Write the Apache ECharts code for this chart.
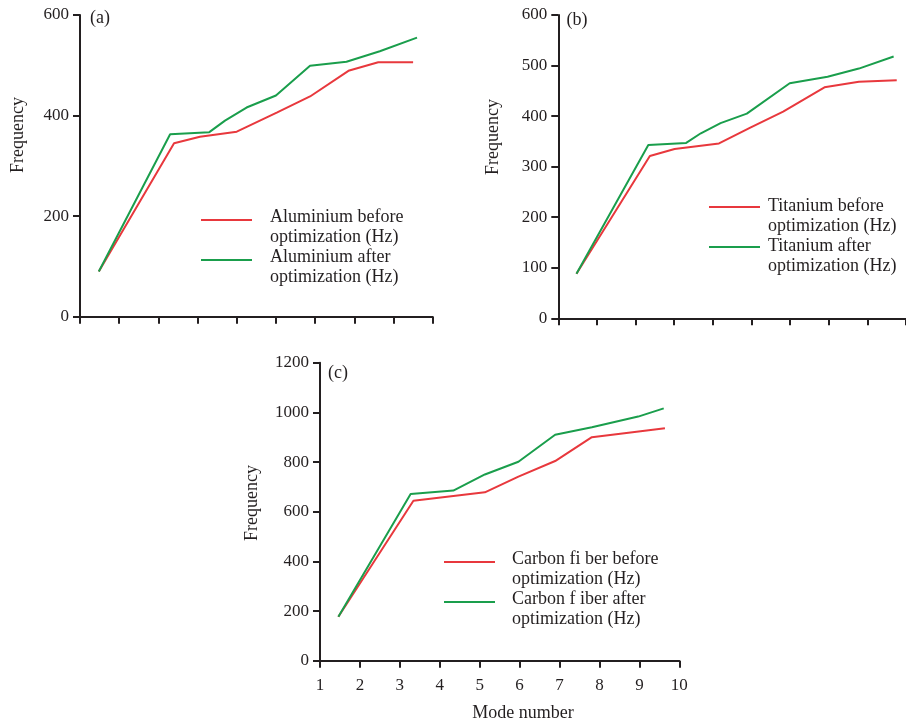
<!DOCTYPE html>
<html>
<head>
<meta charset="utf-8">
<title>Frequency before / after optimization</title>
<script src="https://cdn.jsdelivr.net/npm/echarts@6/dist/echarts.min.js"></script>
<style>
  html, body { margin: 0; padding: 0; background: #fff; }
  #main { width: 906px; height: 723px; }
</style>
</head>
<body>
<div id="main"></div>
<script>
// values: [mode number, frequency]
const aluBefore = [[1.48, 90], [3.40, 345], [4.06, 358], [5.0, 368], [6.02, 406], [6.87, 438], [7.85, 489], [8.61, 506], [9.5, 506]]
const aluAfter = [[1.48, 90], [3.30, 363], [4.30, 367], [4.70, 390], [5.25, 416], [6.0, 440], [6.87, 499], [7.80, 507], [8.65, 528], [9.6, 555]]
const tiBefore = [[1.47, 88], [3.37, 321], [4.01, 335], [5.16, 346], [5.97, 377], [6.82, 409], [7.89, 457], [8.78, 468], [9.76, 471]]
const tiAfter = [[1.47, 88], [3.33, 343], [4.31, 347], [4.69, 366], [5.20, 386], [5.88, 405], [6.99, 465], [7.97, 478], [8.78, 494], [9.68, 518]]
const cfBefore = [[1.46, 177], [3.34, 644], [4.34, 663], [5.13, 678], [5.97, 741], [6.89, 804], [7.81, 900], [8.93, 922], [9.64, 936]]
const cfAfter = [[1.46, 177], [3.27, 671], [4.34, 685], [5.13, 750], [5.97, 801], [6.89, 910], [7.81, 940], [8.97, 983], [9.61, 1016]]

const seriesNames = [
  'Aluminium before\noptimization (Hz)', 'Aluminium after\noptimization (Hz)',
  'Titanium before\noptimization (Hz)', 'Titanium after\noptimization (Hz)',
  'Carbon fi ber before\noptimization (Hz)', 'Carbon f iber after\noptimization (Hz)'
]
const panelLabels = ['(a)', '(b)', '(c)']

const RED = '#e8383d'
const GREEN = '#1a9e4c'
const INK = '#231f20'
const FONT = '"Liberation Serif", "Times New Roman", serif'

const chart = echarts.init(document.getElementById('main'))

function xAxis (gridIndex, showLabel) {
  return {
    type: 'value',
    gridIndex: gridIndex,
    min: 1,
    max: 10,
    interval: 1,
    splitLine: { show: false },
    axisLine: { lineStyle: { color: INK, width: 2 } },
    axisTick: { length: 7, lineStyle: { color: INK, width: 2 } },
    axisLabel: { show: showLabel, color: INK, fontFamily: FONT, fontSize: 17, margin: 16 }
  }
}

function yAxis (gridIndex, max, interval) {
  return {
    type: 'value',
    gridIndex: gridIndex,
    min: 0,
    max: max,
    interval: interval,
    splitLine: { show: false },
    axisLine: { show: true, lineStyle: { color: INK, width: 2 } },
    axisTick: { show: true, length: 7, lineStyle: { color: INK, width: 2 } },
    axisLabel: {
      color: INK,
      fontFamily: FONT,
      fontSize: 17,
      margin: 11,
      formatter: v => String(v)
    }
  }
}

function line (name, data, color, idx) {
  return {
    name: name,
    type: 'line',
    xAxisIndex: idx,
    yAxisIndex: idx,
    data: data,
    symbol: 'none',
    color: color,
    lineStyle: { color: color, width: 2 }
  }
}

// two-line legend text; uneven line heights move the icon up towards the first line
function legend (names, left, top, padLeft, firstLine) {
  const txt = { color: INK, fontFamily: FONT, fontSize: 18 }
  return {
    data: names,
    orient: 'vertical',
    left: left,
    top: top,
    padding: 0,
    icon: 'rect',
    itemWidth: 51,
    itemHeight: 2,
    itemGap: 2,
    selectedMode: false,
    formatter: name => {
      const parts = name.split('\n')
      return '{a|' + parts[0] + '}\n{b|' + parts[1] + '}'
    },
    textStyle: {
      color: INK,
      fontFamily: FONT,
      fontSize: 18,
      padding: [0, 0, 0, padLeft],
      rich: {
        a: Object.assign({ lineHeight: firstLine }, txt),
        b: Object.assign({ lineHeight: 40 - firstLine }, txt)
      }
    }
  }
}

function label (text, x, y, rotate) {
  return {
    type: 'text',
    x: x,
    y: y,
    rotation: rotate ? Math.PI / 2 : 0,
    style: {
      text: text,
      fill: INK,
      font: '18px ' + FONT,
      align: 'center',
      verticalAlign: 'middle'
    }
  }
}

const option = {
  backgroundColor: '#fff',
  animation: false,
  grid: [
    { left: 80, top: 15, width: 352.7, height: 301.7 },
    { left: 558.3, top: 15, width: 352.4, height: 303.3 },
    { left: 320, top: 362.7, width: 359.3, height: 298 }
  ],
  xAxis: [xAxis(0, false), xAxis(1, false), xAxis(2, true)],
  yAxis: [yAxis(0, 600, 200), yAxis(1, 600, 100), yAxis(2, 1200, 200)],
  legend: [
    legend(seriesNames.slice(0, 2), 201, 208, 13, 34),
    legend(seriesNames.slice(2, 4), 709, 197, 3, 38),
    legend(seriesNames.slice(4, 6), 444, 550, 12, 34)
  ],
  graphic: [
    label(panelLabels[0], 100, 18),
    label(panelLabels[1], 577, 20),
    label(panelLabels[2], 338, 373),
    label('Frequency', 18, 135, true),
    label('Frequency', 493, 137, true),
    label('Frequency', 252, 503, true),
    label('Mode number', 523, 713)
  ],
  series: [
    line(seriesNames[0], aluBefore, RED, 0),
    line(seriesNames[1], aluAfter, GREEN, 0),
    line(seriesNames[2], tiBefore, RED, 1),
    line(seriesNames[3], tiAfter, GREEN, 1),
    line(seriesNames[4], cfBefore, RED, 2),
    line(seriesNames[5], cfAfter, GREEN, 2)
  ]
}

chart.setOption(option)
</script>
</body>
</html>
